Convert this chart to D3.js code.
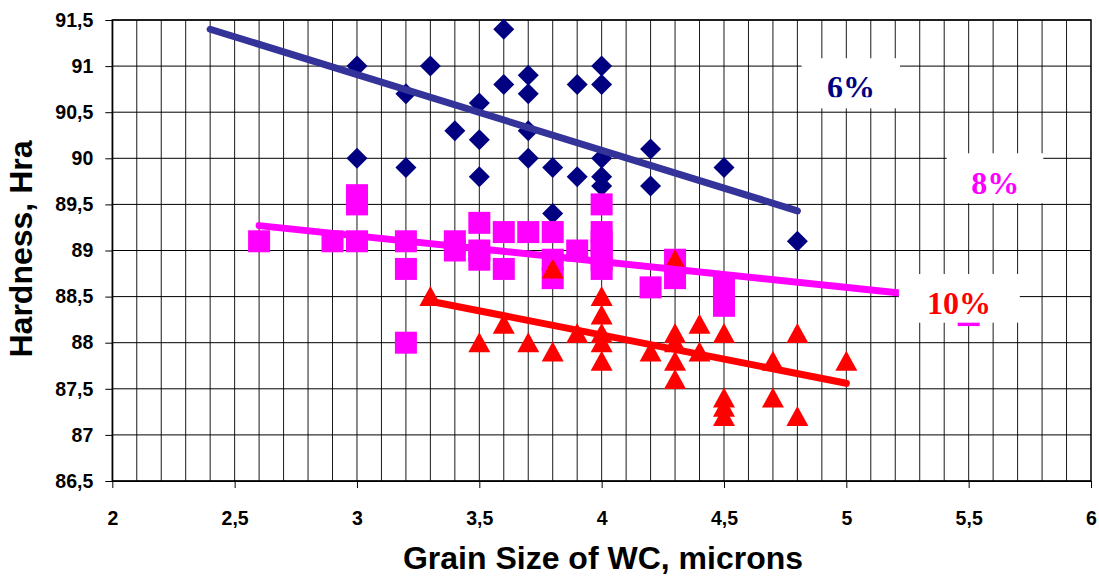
<!DOCTYPE html>
<html lang="en">
<head>
<meta charset="UTF-8">
<title>Hardness vs Grain Size</title>
<script src="https://cdn.jsdelivr.net/npm/d3@7"></script>
<style>
  body { margin: 0; background: #fff; }
</style>
</head>
<body>
<svg id="chart" width="1099" height="576"></svg>
<script>
// 6% Co - diamonds
const x6 = [3.0, 3.0, 3.2, 3.2, 3.3, 3.4, 3.5, 3.5, 3.5, 3.6, 3.6, 3.7, 3.7, 3.7, 3.7,
            3.8, 3.8, 3.9, 3.9, 4.0, 4.0, 4.0, 4.0, 4.0, 4.2, 4.2, 4.5, 4.8];
const y6 = [91.0, 90.0, 90.7, 89.9, 91.0, 90.3, 90.6, 90.2, 89.8, 91.4, 90.8, 90.9, 90.7, 90.3, 90.0,
            89.9, 89.4, 90.8, 89.8, 91.0, 90.8, 90.0, 89.8, 89.7, 90.1, 89.7, 89.9, 89.1];

// 8% Co - squares
const x8 = [2.6, 2.9, 3.0, 3.0, 3.0, 3.2, 3.2, 3.2, 3.4, 3.4, 3.5, 3.5, 3.5, 3.6, 3.6, 3.7,
            3.8, 3.8, 3.8, 3.9, 4.0, 4.0, 4.0, 4.0, 4.0, 4.0, 4.2, 4.3, 4.3, 4.5, 4.5, 4.5, 5.5];
const y8 = [89.1, 89.1, 89.6, 89.5, 89.1, 89.1, 88.8, 88.0, 89.1, 89.0, 89.3, 89.0, 88.9, 89.2, 88.8, 89.2,
            89.2, 88.9, 88.7, 89.0, 89.5, 89.2, 89.1, 89.0, 88.9, 88.8, 88.6, 88.9, 88.7, 88.6, 88.5, 88.4, 88.3];

// 10% Co - triangles
const x10 = [3.3, 3.5, 3.6, 3.7, 3.8, 3.8, 3.9, 4.0, 4.0, 4.0, 4.0, 4.0, 4.2, 4.3, 4.3,
             4.3, 4.3, 4.3, 4.4, 4.4, 4.5, 4.5, 4.5, 4.5, 4.7, 4.7, 4.8, 4.8, 5.0];
const y10 = [88.5, 88.0, 88.2, 88.0, 87.9, 88.8, 88.1, 88.5, 88.3, 88.1, 88.0, 87.8, 87.9, 88.9, 88.1,
             88.0, 87.8, 87.6, 88.2, 87.9, 88.1, 87.4, 87.3, 87.2, 87.8, 87.4, 88.1, 87.2, 87.8];

// trend line end points
const trend6 = [[2.4, 91.40], [4.8, 89.43]];
const trend8 = [[2.6, 89.27], [5.5, 88.46]];
const trend10 = [[3.3, 88.45], [5.0, 87.56]];

const xTicks = [2, 2.5, 3, 3.5, 4, 4.5, 5, 5.5, 6];
const yTicks = [86.5, 87, 87.5, 88, 88.5, 89, 89.5, 90, 90.5, 91, 91.5];

// series labels (box in data units)
const labels = [
  {text: "6%", color: "#000080", x0: 4.817, x1: 5.219, y0: 91.085, y1: 90.542, tx: 5.019, ty: 90.649, clip: 90.662},
  {text: "8%", color: "#FF00FF", x0: 5.410, x1: 5.805, y0: 90.054, y1: 89.512, tx: 5.609, ty: 89.613},
  {text: "10%", color: "#FF0000", x0: 5.215, x1: 5.709, y0: 88.745, y1: 88.217, tx: 5.460, ty: 88.311}
];

const svg = d3.select("#chart");
const mLeft = 112.3, mRight = 1091, mTop = 20, mBottom = 481;

const x = d3.scaleLinear().domain([2, 6]).range([mLeft, mRight]);
const y = d3.scaleLinear().domain([86.5, 91.5]).range([mBottom, mTop]);

svg.append("rect").attr("width", 1099).attr("height", 576).attr("fill", "#fff");

// grid
const grid = svg.append("g").attr("stroke", "#000").attr("stroke-width", 1);
grid.selectAll("line.v")
  .data(d3.range(1, 40).map(i => 2 + i / 10))
  .join("line")
  .attr("x1", d => x(d)).attr("x2", d => x(d))
  .attr("y1", mTop).attr("y2", mBottom)
  .attr("stroke-opacity", 0.9);
grid.selectAll("line.h")
  .data(yTicks)
  .join("line")
  .attr("x1", mLeft).attr("x2", mRight)
  .attr("y1", d => y(d)).attr("y2", d => y(d));

// border
svg.append("rect")
  .attr("x", mLeft).attr("y", mTop)
  .attr("width", mRight - mLeft).attr("height", mBottom - mTop)
  .attr("fill", "none").attr("stroke", "#000").attr("stroke-width", 1.5);

const fmt = d => d3.format(".1~f")(d).replace(".", ",");

const xAxis = svg.append("g")
  .attr("transform", `translate(0,${mBottom})`)
  .call(d3.axisBottom(x).tickValues(xTicks).tickSize(7).tickSizeOuter(0).tickPadding(23).tickFormat(fmt));
const yAxis = svg.append("g")
  .attr("transform", `translate(${mLeft},0)`)
  .call(d3.axisLeft(y).tickValues(yTicks).tickSize(7).tickSizeOuter(0).tickPadding(12).tickFormat(fmt));

[xAxis, yAxis].forEach(a => {
  a.selectAll("text")
    .attr("font-family", "Liberation Sans, Arial, sans-serif")
    .attr("font-weight", "bold")
    .attr("font-size", 19.5)
    .attr("fill", "#000");
  a.selectAll("line").attr("stroke", "#000");
  a.select(".domain").attr("stroke", "#000");
});

// axis titles
svg.append("text")
  .attr("x", 603).attr("y", 569)
  .attr("text-anchor", "middle")
  .attr("font-family", "Liberation Sans, Arial, sans-serif")
  .attr("font-weight", "bold").attr("font-size", 32)
  .text("Grain Size of WC, microns");
svg.append("text")
  .attr("transform", `translate(32,249) rotate(-90)`)
  .attr("text-anchor", "middle")
  .attr("font-family", "Liberation Sans, Arial, sans-serif")
  .attr("font-weight", "bold").attr("font-size", 32)
  .text("Hardness, Hra");

// markers
const pts = (xs, ys) => xs.map((v, i) => [v, ys[i]]);

svg.append("g").selectAll("path")
  .data(pts(x6, y6))
  .join("path")
  .attr("transform", d => `translate(${x(d[0])},${y(d[1])})`)
  .attr("d", "M0,-10.5L10.5,0L0,10.5L-10.5,0Z")
  .attr("fill", "#000080");

svg.append("g").selectAll("rect")
  .data(pts(x8, y8))
  .join("rect")
  .attr("x", d => x(d[0]) - 11).attr("y", d => y(d[1]) - 11)
  .attr("width", 22).attr("height", 22)
  .attr("fill", "#FF00FF");

svg.append("g").selectAll("path")
  .data(pts(x10, y10))
  .join("path")
  .attr("transform", d => `translate(${x(d[0])},${y(d[1])})`)
  .attr("d", "M0,-10.5L11,9.5L-11,9.5Z")
  .attr("fill", "#FF0000");

// trend lines
const line = d3.line().x(d => x(d[0])).y(d => y(d[1]));
[[trend6, "#333399"], [trend8, "#FF00FF"], [trend10, "#FF0000"]].forEach(([t, c]) => {
  svg.append("path")
    .attr("d", line(t))
    .attr("fill", "none")
    .attr("stroke", c)
    .attr("stroke-width", 7)
    .attr("stroke-linecap", "round");
});

// label boxes
const defs = svg.append("defs");
labels.forEach((l, i) => {
  svg.append("rect")
    .attr("x", x(l.x0)).attr("y", y(l.y0))
    .attr("width", x(l.x1) - x(l.x0)).attr("height", y(l.y1) - y(l.y0))
    .attr("fill", "#fff");
  const t = svg.append("text")
    .attr("x", x(l.tx)).attr("y", y(l.ty))
    .attr("text-anchor", "middle")
    .attr("font-family", "Liberation Serif, Times New Roman, serif")
    .attr("font-weight", "bold").attr("font-size", 32)
    .attr("fill", l.color)
    .text(l.text);
  if (l.clip) {
    defs.append("clipPath").attr("id", "clip" + i)
      .append("rect")
      .attr("x", x(l.x0)).attr("y", y(l.y0))
      .attr("width", x(l.x1) - x(l.x0)).attr("height", y(l.clip) - y(l.y0));
    t.attr("clip-path", `url(#clip${i})`);
  }
});
</script>
</body>
</html>
